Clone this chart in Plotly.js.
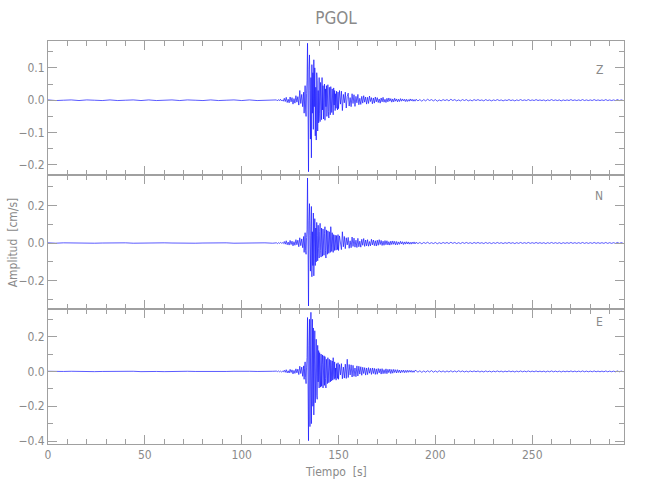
<!DOCTYPE html>
<html>
<head>
<meta charset="utf-8">
<script src="https://cdn.plot.ly/plotly-3.0.1.min.js"></script>
<style>html,body{margin:0;padding:0;background:#fff;}#plot{width:650px;height:500px;}</style>
</head>
<body>
<div id="plot"></div>
<script>
// Amplitudes in units of 0.001 cm/s.
// Sampling segments: [start time (s), step (s)]
const segA  = [0, 4];      // quiet pre-event
const segB1 = [118, 0.5];  // P onset
const segB2 = [132, 0.25]; // strong motion
const segB3 = [150, 0.5];  // coda
const segC  = [190, 1];    // late coda

const zA  = [1,-1,0,1,-1,1,0,-1,1,-1,0,1,-1,1,-1,0,1,-1,1,0,-1,1,-1,0,1,-1,1,-1,0,1];
const zB1 = [1,-2,2,-1,3,-2,1,-3, 6,-4,9,-7,3,-8,10,-5, 8,-12,5,-9,14,-6,11,-15, 30,-10,18,-20];
const zB2 = [25,-40,12,45,-30,-50,20,60,
  176,-60,-221,95, 140,30,-120,70, -178,110,-40,85, -90,125,-20,100,
  -110,40,-123,85, 60,-95,30,-70, 70,-40,-66,55, 20,-60,70,-30,
  45,-58,10,50, -62,35,-20,45, -50,25,48,-35, -55,40,15,-45,
  42,-20,-38,35, 10,-45,38,-15, 30,-32,20,-25, 28,-10,-30,25];
const zB3 = [-26,30,-12,28,-32,18,-8,25,-24,12, 22,-18,8,-20,20,-10,17,-19,12,-8,
  18,-14,6,-13,12,-9,14,-6,10,-12, 9,-10,13,-4,8,-11,7,-9,10,-5,
  8,-7,4,-9,7,-5,9,-6,3,-7, 6,-5,7,-3,5,-6,4,-5,6,-3,
  4,-5,3,-4,5,-3,4,-2,3,-4, 3,-4,2,-3,4,-2,3,-3,2,-3];
const zC  = [3,-2,2,-3,2,-2,3,-1,2,-2, 2,-3,1,-2,2,-1,2,-2,3,-1, 2,-2,1,-2,2,-1,2,-2,1,-2,
  2,-1,2,-1,1,-2,2,-1,1,-2, 1,-1,2,-1,1,-2,1,-1,2,-1, 1,-2,1,-1,2,-1,1,-1,2,-1,
  1,-1,2,-1,1,-1,1,-2,1,-1, 2,-1,1,-1,1,-2,1,-1,1,-1, 2,-1,1,-1,1,-1,2,-1,1,-1,
  1,-1,2,-1,1,-1,1,-1,2,-1, 1,-1,1,-1,2,-1,1,-1];

const nA  = [1,-1,1,0,-1,1,-1,0,1,-1,1,-1,0,1,-1,1,0,-1,1,-1,0,1,-1,1,-1,0,1,-1,1,-1];
const nB1 = [1,-3,2,-2,3,-1,2,-3, 8,-6,12,-9,5,-11,14,-8, 10,-15,7,-12,18,-9,15,-20, 28,-14,22,-25];
const nB2 = [35,-50,20,55,-40,-60,30,70,
  347,-80,-336,120, 210,40,-150,90, 195,-180,60,-120, 160,-175,50,130,
  -120,80,-100,110, 40,-95,95,-30, -80,60,105,-40, -75,80,20,-70,
  75,-30,-65,50, 87,-40,-80,70, 25,-60,65,-20, -55,60,10,-50,
  87,-30,-45,55, 20,-50,45,-25, -40,42,15,-38, 40,-20,-35,45];
const nB3 = [-40,38,-15,-35,60,-20,35,-30,28,-10, 30,-28,12,-25,32,-18,26,-22,15,-24,
  25,-20,10,-22,20,-12,24,-18,16,-15, 18,-17,8,-15,20,-10,16,-14,12,-16,
  15,-12,18,-8,14,-13,10,-12,13,-9, 12,-10,7,-11,10,-8,11,-7,9,-10,
  8,-9,6,-7,9,-5,7,-8,6,-6, 7,-5,6,-6,4,-6,5,-4,6,-5];
const nC  = [4,-3,3,-4,3,-2,4,-3,2,-3, 3,-4,2,-3,3,-2,3,-3,4,-2, 3,-3,2,-3,3,-2,3,-2,2,-3,
  3,-2,3,-2,2,-3,3,-2,2,-3, 2,-2,3,-2,2,-3,2,-2,3,-2, 2,-3,2,-2,3,-2,2,-2,3,-2,
  2,-2,3,-2,2,-2,2,-3,2,-2, 3,-2,2,-2,2,-3,2,-2,2,-2, 3,-2,2,-2,2,-2,3,-2,2,-2,
  2,-2,3,-2,2,-2,2,-2,3,-2, 2,-2,2,-2,3,-2,2,-2];

const eA  = [1,-1,0,1,-1,1,-1,0,1,-1,0,1,-1,1,0,-1,1,-1,1,0,-1,1,-1,0,1,-1,1,0,-1,1];
const eB1 = [2,-1,3,-2,2,-3,1,-2, 7,-5,10,-8,4,-9,12,-6, 9,-14,6,-11,15,-8,13,-18, 30,-12,25,-28];
const eB2 = [32,-45,18,55,-35,-70,25,80,
  310,-90,-398,150, 300,-317,180,340, -300,120,300,-200, 250,-250,100,234,
  -180,90,185,-140, -160,150,-60,120, -95,108,30,-90, 100,-85,40,95,
  -95,60,90,-80, 85,-40,-95,70, 30,-70,79,-20, -65,70,15,-60,
  65,-55,25,60, -50,79,-20,-45, 55,-40,20,-50, 45,-25,-40,50];
const eB3 = [-45,40,-20,45,-42,25,-38,42,-40,70, -35,40,-20,38,-32,35,-28,20,-30,32,
  -26,30,-15,27,-22,24,-12,22,-21,20, -18,22,-10,18,-17,20,-12,18,-17,15,
  -16,17,-8,15,-15,16,-13,10,-12,15, -13,12,-7,13,-12,11,-10,12,-6,10,
  -9,10,-6,8,-9,7,-5,8,-7,6, -6,7,-5,6,-4,6,-5,4,-5,6];
const eC  = [5,-4,4,-5,3,-4,4,-3,5,-4, 3,-4,4,-3,3,-4,3,-3,4,-3, 3,-3,4,-2,3,-3,2,-3,3,-2,
  3,-2,3,-3,2,-3,3,-2,2,-3, 2,-2,3,-2,2,-3,2,-2,3,-2, 2,-3,2,-2,3,-2,2,-2,3,-2,
  2,-2,3,-2,2,-2,2,-3,2,-2, 3,-2,2,-2,2,-3,2,-2,2,-2, 3,-2,2,-2,2,-2,3,-2,2,-2,
  2,-2,3,-2,2,-2,2,-2,3,-2, 2,-2,2,-2,3,-2,2,-2];

const channels = ['Z','N','E'];
const xTickVals = [0,50,100,150,200,250];

function build(parts) {
  const x = [], y = [];
  parts.forEach(([seg, vals]) => {
    vals.forEach((v,i) => { x.push(seg[0] + i*seg[1]); y.push(v/1000); });
  });
  return {x, y};
}
const series = [
  build([[segA,zA],[segB1,zB1],[segB2,zB2],[segB3,zB3],[segC,zC]]),
  build([[segA,nA],[segB1,nB1],[segB2,nB2],[segB3,nB3],[segC,nC]]),
  build([[segA,eA],[segB1,eB1],[segB2,eB2],[segB3,eB3],[segC,eC]])
];

const lineColor = 'rgb(20,20,255)';
const traces = series.map((s, i) => ({
  x: s.x, y: s.y, type: 'scatter', mode: 'lines',
  line: {color: lineColor, width: 0.7},
  xaxis: i === 0 ? 'x' : 'x' + (i+1),
  yaxis: i === 0 ? 'y' : 'y' + (i+1),
  hoverinfo: 'skip', showlegend: false
}));

const fontFam = '"Liberation Sans Narrow", "DejaVu Sans Condensed", "Roboto Condensed", Roboto, sans-serif';
const grey = '#8a8a8a';
const axCol = '#a0a0a0';

function xAxis(showLabels, anchor) {
  return {
    range: [0, 297.4], anchor: anchor, showline: true, linecolor: axCol, linewidth: 1,
    mirror: 'ticks', ticks: 'inside', ticklen: 9, tickcolor: axCol, tickwidth: 1,
    tickvals: xTickVals, showticklabels: showLabels, showgrid: false, zeroline: false,
    minor: {dtick: 10, ticks: 'inside', ticklen: 5, tickcolor: axCol, showgrid: false},
    tickfont: {family: fontFam, size: 12, color: grey}
  };
}
function yAxis(range, dtick, minorDtick, domain, anchor) {
  return {
    range: range, domain: domain, anchor: anchor, showline: true, linecolor: axCol, linewidth: 1,
    mirror: 'ticks', ticks: 'inside', ticklen: 9, tickcolor: axCol, tickwidth: 1,
    dtick: dtick, tick0: 0, tickformat: '.1f', showgrid: false, zeroline: false,
    minor: {dtick: minorDtick, ticks: 'inside', ticklen: 5, tickcolor: axCol, showgrid: false},
    tickfont: {family: fontFam, size: 12, color: grey}
  };
}

const layout = {
  width: 650, height: 500,
  margin: {l: 48, r: 26, t: 41, b: 56},
  paper_bgcolor: '#fff', plot_bgcolor: '#fff',
  title: {text: 'PGOL', x: 0.5, xref: 'paper', y: 0.964, yref: 'container', yanchor: 'middle',
          font: {family: fontFam, size: 17, color: grey}},
  xaxis: xAxis(false, 'y'),
  xaxis2: Object.assign(xAxis(false, 'y2'), {matches: 'x'}),
  xaxis3: Object.assign(xAxis(true, 'y3'), {matches: 'x'}),
  yaxis: yAxis([-0.231, 0.183], 0.1, 0.05, [0.6675, 1], 'x'),
  yaxis2: yAxis([-0.352, 0.363], 0.2, 0.1, [0.335, 0.6675], 'x2'),
  yaxis3: yAxis([-0.417, 0.359], 0.2, 0.1, [0, 0.335], 'x3'),
  annotations: [
    {text: channels[0], xref: 'paper', yref: 'paper', x: 0.967, y: 0.950, showarrow: false, font: {family: fontFam, size: 12, color: grey}},
    {text: channels[1], xref: 'paper', yref: 'paper', x: 0.967, y: 0.615, showarrow: false, font: {family: fontFam, size: 12, color: grey}},
    {text: channels[2], xref: 'paper', yref: 'paper', x: 0.967, y: 0.280, showarrow: false, font: {family: fontFam, size: 12, color: grey}},
    {text: 'Amplitud  [cm/s]', xref: 'paper', yref: 'paper', x: -0.061, y: 0.5, textangle: -90, showarrow: false,
     xanchor: 'center', yanchor: 'middle', font: {family: fontFam, size: 12, color: grey}},
    {text: 'Tiempo  [s]', xref: 'paper', yref: 'paper', x: 0.5, y: -0.0695, showarrow: false,
     xanchor: 'center', yanchor: 'middle', font: {family: fontFam, size: 12, color: grey}}
  ]
};

Plotly.newPlot('plot', traces, layout, {displayModeBar: false, staticPlot: true});
</script>
</body>
</html>
